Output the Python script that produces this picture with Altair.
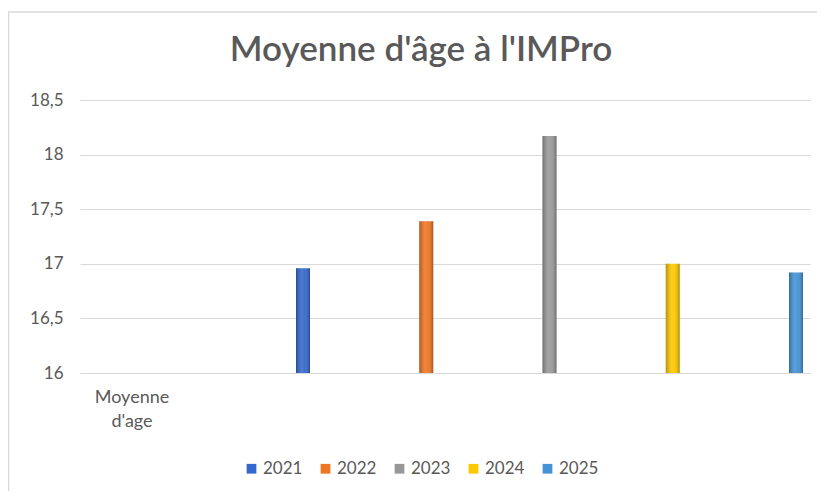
import altair as alt
import pandas as pd

years = ["2021", "2022", "2023", "2024", "2025"]
values = [16.96, 17.39, 18.17, 17.0, 16.92]
colors = ["#3468cc", "#ee7622", "#989898", "#fcc800", "#4393d6"]
category_label = ["Moyenne", "d'age"]
title_text = "Moyenne d'âge à l'IMPro"

df = pd.DataFrame({"year": years, "value": values})

W, H = 730, 273

xenc = alt.X("year:N", axis=None,
             scale=alt.Scale(paddingInner=0.8864, paddingOuter=0.9047, align=0.9686))
yscale = alt.Scale(domain=[16, 18.5], zero=False, nice=False)

bars = alt.Chart(df).mark_bar(clip=True).encode(
    x=xenc,
    y=alt.Y("value:Q", scale=yscale,
            axis=alt.Axis(title=None, values=[16, 16.5, 17, 17.5, 18, 18.5],
                          labelExpr="replace(format(datum.value, '~g'), '.', ',')",
                          domain=False, ticks=False, labelPadding=17,
                          labelFont="Lato", labelFontSize=17, labelColor="#595959",
                          grid=True, gridColor="#d9d9d9", gridWidth=1.2)),
    color=alt.Color("year:N",
                    scale=alt.Scale(domain=years, range=colors),
                    legend=alt.Legend(title=None, orient="none", direction="horizontal",
                                      legendX=163, legendY=360,
                                      symbolType="square", symbolSize=95,
                                      symbolStrokeWidth=0,
                                      labelFont="Lato", labelFontSize=17,
                                      labelColor="#595959", columnPadding=14,
                                      symbolOffset=0, labelOffset=3)),
)

shade = alt.Chart(df).mark_bar(
    clip=True,
    color=alt.LinearGradient(
        gradient="linear", x1=0, x2=1, y1=0, y2=0,
        stops=[alt.GradientStop(color="rgba(0,0,0,0.28)", offset=0),
               alt.GradientStop(color="rgba(255,255,255,0.12)", offset=0.45),
               alt.GradientStop(color="rgba(255,255,255,0.05)", offset=0.6),
               alt.GradientStop(color="rgba(0,0,0,0.3)", offset=1)]),
).encode(x=xenc, y=alt.Y("value:Q", scale=yscale))

cat = alt.Chart(pd.DataFrame({"t": [category_label]})).mark_text(
    font="Lato", fontSize=18, color="#595959", align="center",
    baseline="middle", lineHeight=24
).encode(text="t", x=alt.value(52), y=alt.value(298))

border = alt.Chart(pd.DataFrame({"a": [0]})).mark_rect(
    fill=None, stroke="#d9d9d9", strokeWidth=1.5
).encode(x=alt.value(-71.5), x2=alt.value(760), y=alt.value(-88), y2=alt.value(420))

chart = alt.layer(border, bars, shade, cat).properties(
    width=W, height=H,
    title=alt.TitleParams(title_text, font="Lato", fontSize=35, fontWeight=600,
                          color="#595959", anchor="middle", offset=-57, dx=-24,
                          frame="group"),
    autosize=alt.AutoSizeParams(type="none"),
    padding={"left": 72, "top": 92, "right": 7, "bottom": 118},
    background="white",
).configure_view(stroke=None)

chart.save("out.html", embed_options={"renderer": "svg", "actions": False})
